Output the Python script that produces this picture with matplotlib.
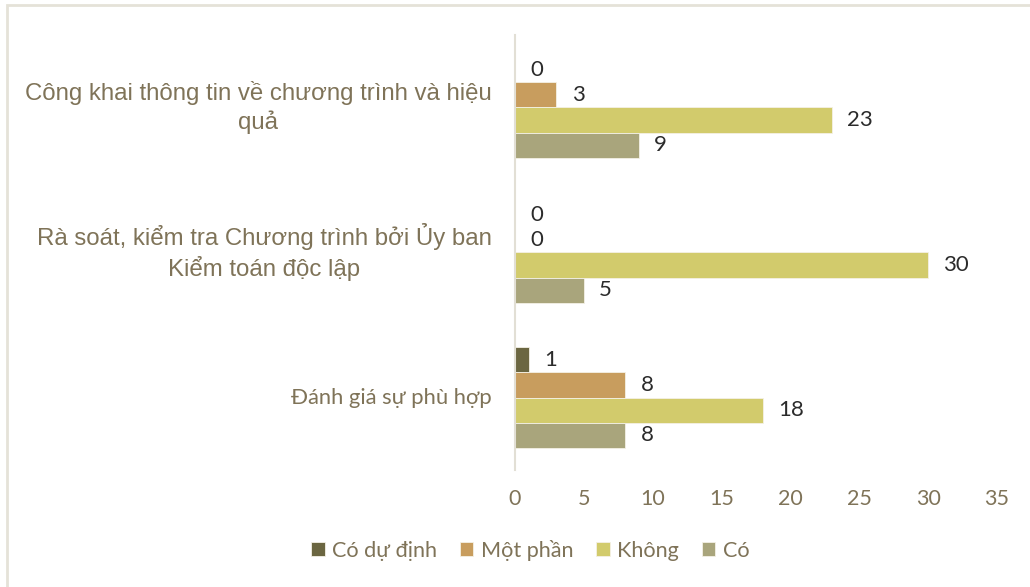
import matplotlib
matplotlib.use("Agg")
import matplotlib.pyplot as plt
from matplotlib.patches import Rectangle
import numpy as np

# Categories from bottom to top
categories = [
    "Đánh giá sự phù hợp",
    "Rà soát, kiểm tra Chương trình bởi Ủy ban\nKiểm toán độc lập",
    "Công khai thông tin về chương trình và hiệu\nquả",
]
series_names = ["Có dự định", "Một phần", "Không", "Có"]
co_du_dinh = [1, 0, 0]
mot_phan = [8, 0, 3]
khong = [18, 30, 23]
co = [8, 5, 9]
series_values = [co_du_dinh, mot_phan, khong, co]
series_colors = ["#6b6641", "#c89d5e", "#d2cb6c", "#a9a57c"]
x_ticks = [0, 5, 10, 15, 20, 25, 30, 35]

text_color = "#7f7358"
label_color = "#2b2b2b"

fig = plt.figure(figsize=(10.30, 5.87), dpi=100)
ax = fig.add_axes([0.5, 0.1993, 0.468, 0.7411])

bar_h = 0.173
y = np.arange(len(categories))
for i, (name, vals, col) in enumerate(zip(series_names, series_values, series_colors)):
    # first series sits at the top of each group
    offs = (1.5 - i) * bar_h
    ax.barh(y + offs, vals, height=bar_h, color=col, label=name,
            edgecolor="#f4f1e6", linewidth=0.6)
    for yy, v in zip(y + offs, vals):
        ax.annotate(f"{v}", xy=(v, yy), xytext=(11, 0), textcoords="offset points",
                    ha="left", va="center", fontsize=16, color=label_color,
                    family="Lato")

ax.set_xlim(0, 35)
ax.set_ylim(-0.5, 2.5)
ax.set_xticks(x_ticks)
ax.set_xticklabels([str(t) for t in x_ticks], fontsize=15.5, color=text_color, family="Lato")
ax.tick_params(axis="x", length=0, pad=14)
ax.set_yticks(y)
ax.set_yticklabels([])
ax.tick_params(axis="y", length=0)

for s in ["top", "right", "bottom"]:
    ax.spines[s].set_visible(False)
ax.spines["left"].set_color("#e2dfd5")
ax.spines["left"].set_linewidth(1.5)

# Category labels, right-aligned next to the axis
for yy, cat in zip(y, categories):
    if "\n" in cat:
        ax.annotate(cat, xy=(0, yy), xytext=(-17, 0), textcoords="offset points",
                    ha="right", va="center", multialignment="center",
                    fontsize=17.3, color=text_color, family="Liberation Sans",
                    linespacing=1.3)
    else:
        ax.annotate(cat, xy=(0, yy), xytext=(-17, 0), textcoords="offset points",
                    ha="right", va="center", fontsize=15.8, color=text_color,
                    family="Lato")

leg = fig.legend(loc="center", bbox_to_anchor=(0.515, 0.063), ncol=4, frameon=False,
                 handlelength=0.62, handleheight=0.62, handletextpad=0.35,
                 columnspacing=1.05, prop={"family": "Lato", "size": 15.6})
for t in leg.get_texts():
    t.set_color(text_color)

# Chart frame
fig.add_artist(Rectangle((0.0065, -0.1), 1.2, 1.092, transform=fig.transFigure,
                         fill=False, edgecolor="#e5e2d8", linewidth=2))

fig.savefig("out.png", dpi=100)
